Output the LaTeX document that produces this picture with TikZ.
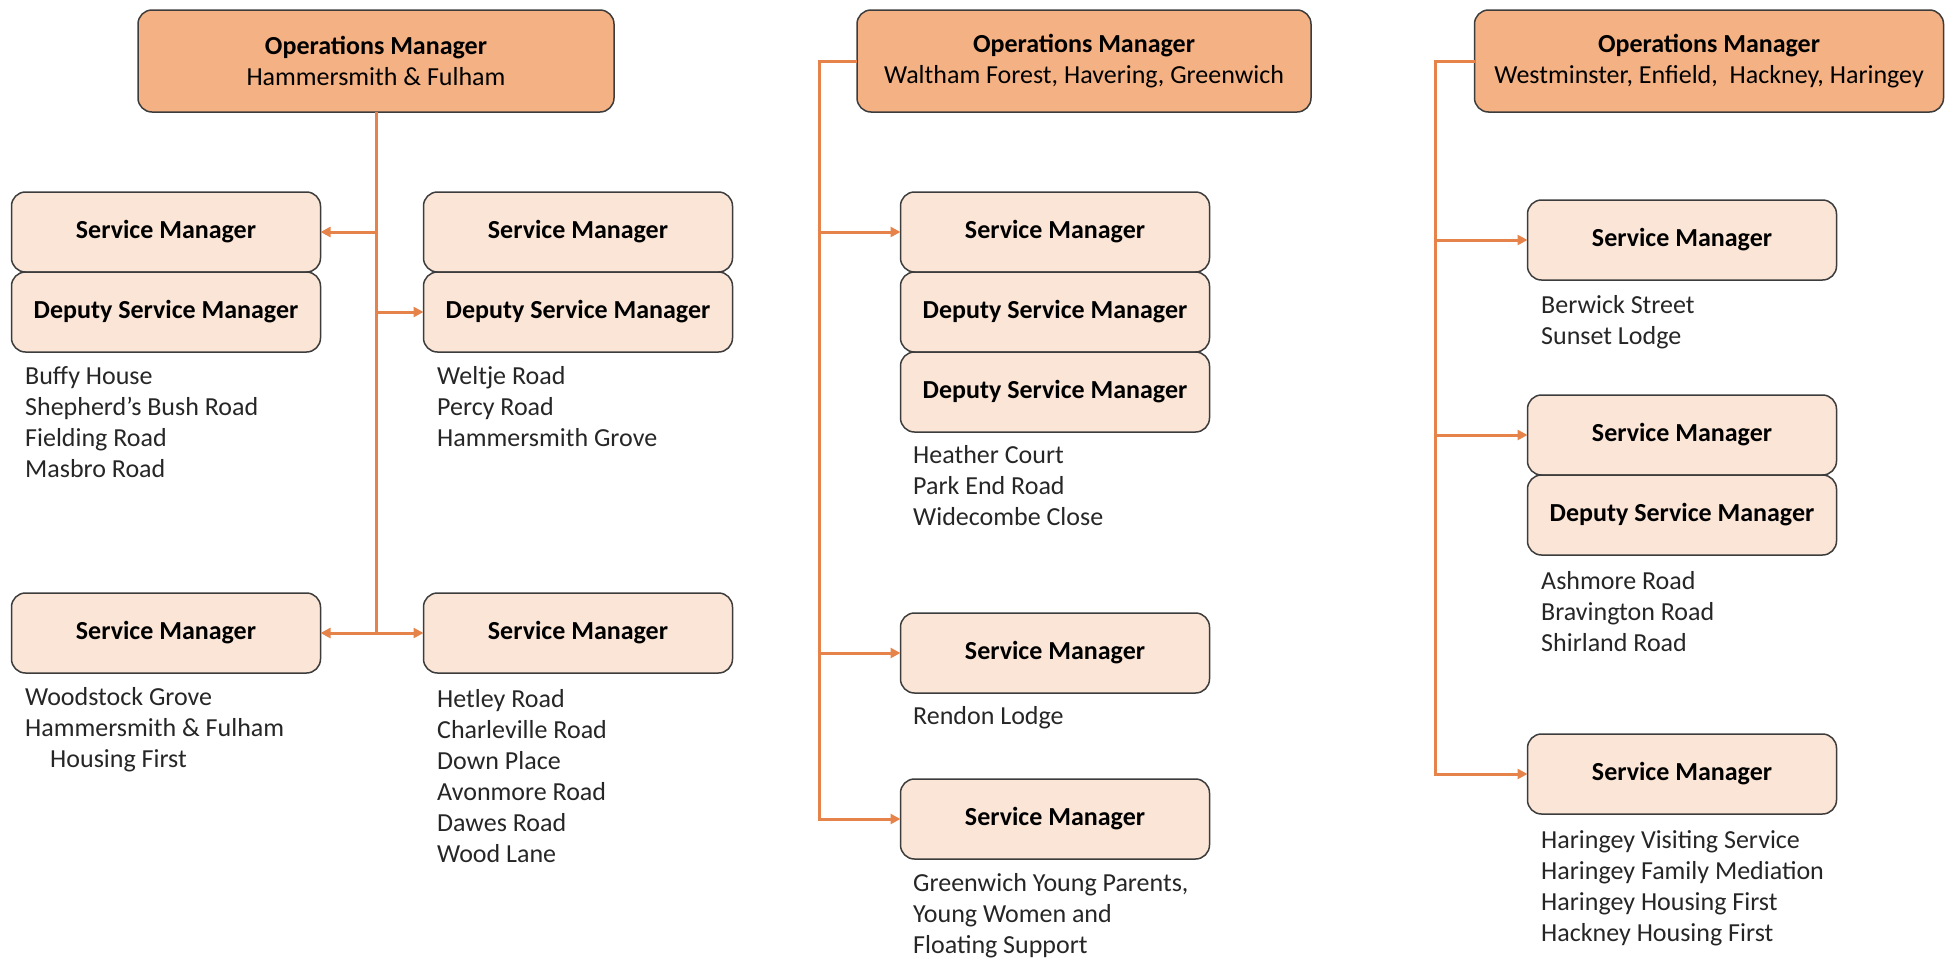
\documentclass[tikz,border=0pt]{standalone}
\usepackage{fontspec}
\setmainfont{Carlito}
\usetikzlibrary{positioning,arrows.meta}

\definecolor{opsfill}{RGB}{244,177,131}
\definecolor{mgrfill}{RGB}{251,229,214}
\definecolor{linkorange}{RGB}{229,131,74}
\definecolor{boxedge}{RGB}{60,60,60}
\definecolor{sitetext}{RGB}{38,38,38}
\newcommand{\chartfont}{\fontsize{26}{31}\selectfont}

\tikzset{
	opsbox/.style={draw=boxedge, line width=1.5pt, fill=opsfill, rounded corners=14pt, minimum height=102pt, align=center, outer sep=0pt},
	mgrbox/.style={draw=boxedge, line width=1.5pt, fill=mgrfill, rounded corners=14pt, minimum width=309pt, minimum height=80pt, font=\chartfont\bfseries, outer sep=0pt},
	sitelist/.style={anchor=north west, inner sep=0pt, align=left, text=sitetext},
	link/.style={draw=linkorange, line width=3pt},
	linkarrow/.style={link, -{Triangle[length=10pt,width=10pt]}}
}

\begin{document}
\begin{tikzpicture}[x=1pt, y=-1pt, font=\chartfont]
	\useasboundingbox (0,0) rectangle (1954,959);
	% Hammersmith & Fulham
	\node[opsbox, minimum width=476pt] (opsA) at (376,61) {\textbf{Operations Manager}\\Hammersmith \& Fulham};
	\node[mgrbox] (smA1) at (166,232) {Service Manager};
	\node[mgrbox, below=0pt of smA1] (dsmA1) {Deputy Service Manager};
	\node[mgrbox] (smA2) at (578,232) {Service Manager};
	\node[mgrbox, below=0pt of smA2] (dsmA2) {Deputy Service Manager};
	\node[mgrbox] (smA3) at (166,633) {Service Manager};
	\node[mgrbox] (smA4) at (578,633) {Service Manager};
	\node[sitelist] (listA1) at (25,366) {Buffy House\\Shepherd’s Bush Road\\Fielding Road\\Masbro Road};
	\node[sitelist] (listA2) at (437,366) {Weltje Road\\Percy Road\\Hammersmith Grove};
	\node[sitelist] (listA3) at (25,687) {Woodstock Grove\\Hammersmith \& Fulham\\\hspace*{25pt}Housing First};
	\node[sitelist] (listA4) at (437,689) {Hetley Road\\Charleville Road\\Down Place\\Avonmore Road\\Dawes Road\\Wood Lane};
	\draw[link] (opsA.south) -- (opsA.south |- smA3.east);
	\draw[linkarrow] (opsA.south |- smA1.east) -- (smA1.east);
	\draw[linkarrow] (opsA.south |- dsmA2.west) -- (dsmA2.west);
	\draw[linkarrow] (opsA.south |- smA3.east) -- (smA3.east);
	\draw[linkarrow] (opsA.south |- smA4.west) -- (smA4.west);

	% Waltham Forest, Havering, Greenwich
	\node[opsbox, minimum width=454pt] (opsB) at (1084,61) {\textbf{Operations Manager}\\Waltham Forest, Havering, Greenwich};
	\node[mgrbox] (smB1) at (1055,232) {Service Manager};
	\node[mgrbox, below=0pt of smB1] (dsmB1) {Deputy Service Manager};
	\node[mgrbox, below=0pt of dsmB1] (dsmB2) {Deputy Service Manager};
	\node[mgrbox] (smB2) at (1055,653) {Service Manager};
	\node[mgrbox] (smB3) at (1055,819) {Service Manager};
	\node[sitelist] (listB1) at (913,445) {Heather Court\\Park End Road\\Widecombe Close};
	\node[sitelist] (listB2) at (913,706) {Rendon Lodge};
	\node[sitelist] (listB3) at (913,873) {Greenwich Young Parents,\\Young Women and\\Floating Support};
	\coordinate (busB) at (819,0);
	\draw[linkarrow] (opsB.west) -| (busB |- smB3.west) -- (smB3.west);
	\draw[linkarrow] (busB |- smB1.west) -- (smB1.west);
	\draw[linkarrow] (busB |- smB2.west) -- (smB2.west);

	% Westminster, Enfield, Hackney, Haringey
	\node[opsbox, minimum width=469pt] (opsC) at (1709,61) {\textbf{Operations Manager}\\Westminster, Enfield,~ Hackney, Haringey};
	\node[mgrbox] (smC1) at (1682,240) {Service Manager};
	\node[mgrbox] (smC2) at (1682,435) {Service Manager};
	\node[mgrbox, below=0pt of smC2] (dsmC2) {Deputy Service Manager};
	\node[mgrbox] (smC3) at (1682,774) {Service Manager};
	\node[sitelist] (listC1) at (1541,295) {Berwick Street\\Sunset Lodge};
	\node[sitelist] (listC2) at (1541,571) {Ashmore Road\\Bravington Road\\Shirland Road};
	\node[sitelist] (listC3) at (1541,830) {Haringey Visiting Service\\Haringey Family Mediation\\Haringey Housing First\\Hackney Housing First};
	\coordinate (busC) at (1435,0);
	\draw[linkarrow] (opsC.west) -| (busC |- smC3.west) -- (smC3.west);
	\draw[linkarrow] (busC |- smC1.west) -- (smC1.west);
	\draw[linkarrow] (busC |- smC2.west) -- (smC2.west);
\end{tikzpicture}
\end{document}
